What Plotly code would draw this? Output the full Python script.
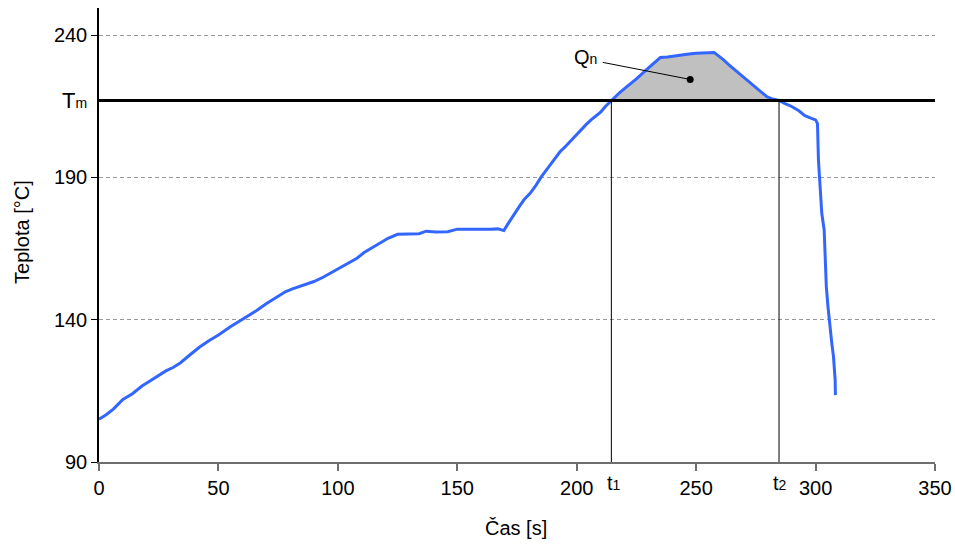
import plotly.graph_objects as go

# ---- data ----
time_s = [0, 3, 6, 10, 14, 18, 21, 24, 28, 31, 34, 38, 42, 46, 50, 55, 58, 62, 66, 70,
          74, 78, 81, 84, 87, 90, 94, 97, 100, 104, 108, 111, 115, 118, 121, 125, 130,
          134, 137, 141, 146, 150, 155, 160, 164, 167, 169.5, 171, 173.5, 176, 178,
          180.5, 183, 185, 187.5, 190, 193, 195, 197, 199, 201.5, 204, 206, 208, 210,
          212, 214.5, 218, 221, 225, 229, 232, 235, 238, 241, 244, 247, 250, 254,
          257.5, 259.5, 261.5, 264, 267, 270, 273, 276, 279.5, 282, 284.7, 287, 290,
          293, 295.5, 298, 300, 300.8, 301.2, 301.9, 302.6, 303.6, 304, 304.5, 305.2,
          305.8, 306.8, 307.5, 308.2, 308.3]
temp_c = [105.0, 106.6, 108.6, 112.0, 114.0, 116.7, 118.3, 120.0, 122.0, 123.2, 124.8,
          127.6, 130.3, 132.6, 134.6, 137.5, 139.0, 141.0, 143.2, 145.6, 147.8, 149.8,
          150.8, 151.6, 152.4, 153.4, 155.0, 156.4, 157.8, 159.6, 161.6, 163.6, 165.6,
          167.4, 168.6, 170.0, 170.1, 170.2, 171.1, 170.8, 170.9, 171.8, 171.8, 171.7,
          171.8, 171.9, 171.3, 173.4, 176.8, 179.8, 182.2, 184.4, 187.3, 190.0, 192.8,
          195.8, 199.0, 200.6, 202.4, 204.4, 206.5, 208.6, 210.2, 211.5, 212.9, 214.9,
          217.0, 219.8, 221.9, 224.6, 227.7, 230.0, 232.1, 232.3, 232.7, 232.9, 233.3,
          233.6, 233.9, 233.9, 232.6, 231.3, 229.3, 227.2, 225.1, 223.0, 220.8, 218.4,
          217.5, 217.0, 216.0, 214.9, 213.4, 211.7, 210.8, 210.2, 208.9, 196.1, 186.7,
          177.4, 171.5, 163.3, 151.6, 144.5, 138.7, 131.7, 127.0, 118.8, 113.5]

T_m = 217
t1 = 214.5
t2 = 284.7
x_ticks = [0, 50, 100, 150, 200, 250, 300, 350]
y_ticks = [90, 140, 190, 240]
qn_dot = [247.5, 224.4]
qn_leader_start = [210.9, 230.4]

FONT = "Liberation Sans, Arial, sans-serif"

def small(s):
    return '<span style="font-size:14px">' + s + '</span>'

# shaded region between curve and Tm from t1 to t2
fill_x = [t1] + [t for t in time_s if t1 < t < t2] + [t2]
fill_y = [T_m] + [v for t, v in zip(time_s, temp_c) if t1 < t < t2] + [T_m]

fig = go.Figure()
fig.add_trace(go.Scatter(x=fill_x, y=fill_y, fill="toself", fillcolor="#c0c0c0",
                         line=dict(width=0), mode="lines", hoverinfo="skip"))
fig.add_trace(go.Scatter(x=time_s, y=temp_c, mode="lines",
                         line=dict(color="#3366ff", width=3)))
fig.add_trace(go.Scatter(x=[qn_leader_start[0], qn_dot[0]], y=[qn_leader_start[1], qn_dot[1]],
                         mode="lines", line=dict(color="black", width=1)))
fig.add_trace(go.Scatter(x=[qn_dot[0]], y=[qn_dot[1]], mode="markers",
                         marker=dict(color="black", size=7)))

# Tm line and t1/t2 verticals
fig.add_shape(type="line", xref="paper", x0=0, x1=1, yref="y", y0=T_m, y1=T_m,
              line=dict(color="black", width=3))
for tv in (t1, t2):
    fig.add_shape(type="line", x0=tv, x1=tv, y0=90, y1=T_m,
                  line=dict(color="black", width=1))

ann = [
    dict(text='<span style="font-size:22px">T</span>' + small("m"), x=-0.0125, xref="paper",
         y=T_m, yref="y", xanchor="right", yanchor="middle", showarrow=False),
    dict(text="t" + small("1"), x=t1 + 1.2, xref="x", y=-0.018, yref="paper",
         xanchor="center", yanchor="top", showarrow=False, font=dict(size=20)),
    dict(text="t" + small("2"), x=t2 + 0.5, xref="x", y=-0.018, yref="paper",
         xanchor="center", yanchor="top", showarrow=False, font=dict(size=20)),
    dict(text="Q" + small("n"), x=qn_leader_start[0] - 1.5, xref="x", y=qn_leader_start[1] + 2,
         yref="y", xanchor="right", yanchor="middle", showarrow=False, font=dict(size=20)),
    dict(text="Čas [s]", x=0.4988, xref="paper", y=-0.145, yref="paper",
         xanchor="center", yanchor="middle", showarrow=False, font=dict(size=20)),
    dict(text="Teplota [°C]", x=-0.092, xref="paper", y=0.507, yref="paper",
         xanchor="center", yanchor="middle", textangle=-90, showarrow=False,
         font=dict(size=20)),
]

fig.update_layout(
    width=955, height=545,
    margin=dict(l=99, r=20, t=8, b=83, autoexpand=False),
    paper_bgcolor="white", plot_bgcolor="white",
    showlegend=False,
    font=dict(family=FONT, size=20, color="black"),
    annotations=ann,
    xaxis=dict(range=[0, 350], tickvals=x_ticks, showgrid=False, zeroline=False,
               automargin=False,
               showline=True, linecolor="#6e6e6e", linewidth=1.5,
               ticks="outside", ticklen=7, tickcolor="#6e6e6e", tickwidth=1.5,
               tickfont=dict(size=20, family=FONT)),
    yaxis=dict(range=[90, 249.5], tickvals=y_ticks, showgrid=True, gridcolor="#9a9a9a",
               griddash="4px,3px", gridwidth=1, zeroline=False, automargin=False,
               showline=True, linecolor="black", linewidth=1.5,
               ticks="outside", ticklen=6, tickcolor="black", tickwidth=1,
               tickfont=dict(size=20, family=FONT)),
)

# remove the browser's default 8px page margin so the figure fills the window
fig.write_html("out.html", config={"displayModeBar": False},
               post_script="document.body.style.margin='0';document.body.style.overflow='hidden';")
